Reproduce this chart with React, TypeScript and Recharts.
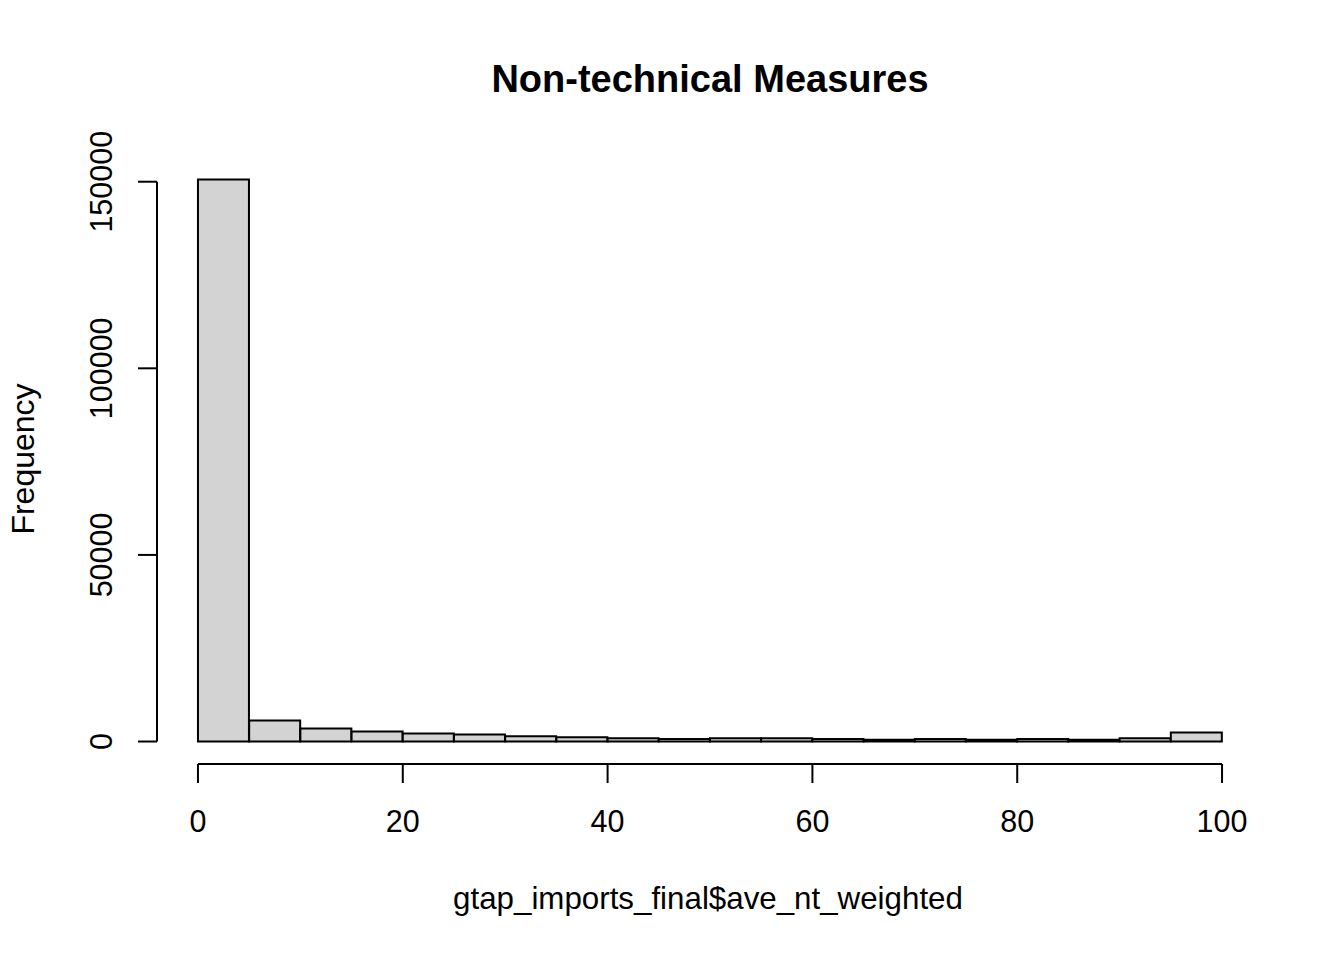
import React from 'react';
import { BarChart, Bar, XAxis, YAxis, ReferenceLine } from 'recharts';

const binMids = [2.5, 7.5, 12.5, 17.5, 22.5, 27.5, 32.5, 37.5, 42.5, 47.5, 52.5, 57.5, 62.5, 67.5, 72.5, 77.5, 82.5, 87.5, 92.5, 97.5];
const frequencies = [150600, 5640, 3490, 2690, 2150, 1880, 1430, 1160, 890, 650, 890, 880, 680, 450, 650, 450, 650, 450, 890, 2420];
const xTicks = [0, 20, 40, 60, 80, 100];
const yTicks = [0, 50000, 100000, 150000];
const title = 'Non-technical Measures';
const xLabel = 'gtap_imports_final$ave_nt_weighted';
const yLabel = 'Frequency';

const data = binMids.map((mid, i) => ({ mid, freq: frequencies[i] }));

const xMin = 0;
const xMax = 100;
const xPad = (xMax - xMin) * 0.04;
const yMax = Math.max(...frequencies);
const yPad = yMax * 0.04;

const FONT = '"Liberation Sans", Arial, Helvetica, sans-serif';
const AXIS_FS = 30.5;

const YTick = (props: any) => {
  const { x, y, payload } = props;
  const bx = x - 26;
  return (
    <text
      x={bx}
      y={y}
      transform={`rotate(-90, ${bx}, ${y})`}
      textAnchor="middle"
      fontFamily={FONT}
      fontSize={AXIS_FS}
      fill="#000"
    >
      {String(payload.value)}
    </text>
  );
};

export default function App() {
  return (
    <div style={{ position: 'absolute', left: 0, top: 0, width: 1344, height: 960, background: '#fff' }}>
      <BarChart
        width={1344}
        height={960}
        data={data}
        margin={{ top: 157, right: 81, bottom: 0, left: 0 }}
        barCategoryGap={0}
        barGap={0}
      >
        <XAxis
          dataKey="mid"
          type="number"
          domain={[xMin - xPad, xMax + xPad]}
          ticks={xTicks}
          allowDataOverflow
          height={196}
          axisLine={false}
          tickSize={19}
          tickMargin={27}
          tickLine={{ stroke: '#000', strokeWidth: 2 }}
          tick={{ fontSize: AXIS_FS, fontFamily: FONT, fill: '#000' }}
          interval={0}
        />
        <YAxis
          type="number"
          domain={[-yPad, yMax + yPad]}
          ticks={yTicks}
          allowDataOverflow
          width={157}
          axisLine={false}
          tickSize={19}
          tickMargin={0}
          tickLine={{ stroke: '#000', strokeWidth: 2 }}
          tick={<YTick />}
          interval={0}
        />
        <Bar
          dataKey="freq"
          fill="#d3d3d3"
          stroke="#000"
          strokeWidth={2}
          isAnimationActive={false}
        />
        <ReferenceLine
          segment={[{ x: xMin, y: -yPad }, { x: xMax, y: -yPad }]}
          stroke="#000"
          strokeWidth={2}
          ifOverflow="visible"
        />
        <ReferenceLine
          segment={[{ x: xMin - xPad, y: yTicks[0] }, { x: xMin - xPad, y: yTicks[yTicks.length - 1] }]}
          stroke="#000"
          strokeWidth={2}
          ifOverflow="visible"
        />
      </BarChart>
      <svg
        width={1344}
        height={960}
        style={{ position: 'absolute', left: 0, top: 0, pointerEvents: 'none' }}
      >
        <text x={710} y={92} textAnchor="middle" fontFamily={FONT} fontSize={38} fontWeight="bold" fill="#000">
          {title}
        </text>
        <text x={708} y={909} textAnchor="middle" fontFamily={FONT} fontSize={31.3} fill="#000">
          {xLabel}
        </text>
        <text
          x={33.5}
          y={459}
          transform="rotate(-90, 33.5, 459)"
          textAnchor="middle"
          fontFamily={FONT}
          fontSize={32}
          fill="#000"
        >
          {yLabel}
        </text>
      </svg>
    </div>
  );
}
